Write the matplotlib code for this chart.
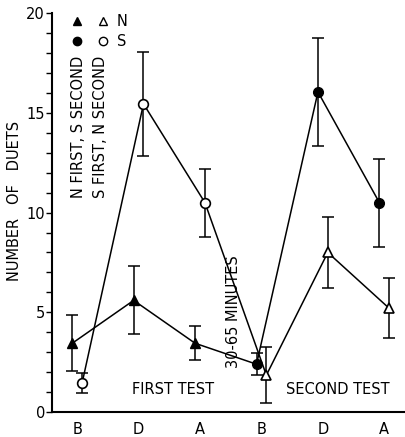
import matplotlib.pyplot as plt
import numpy as np

# x categories: first test (B, D, A) then second test (B, D, A)
categories = ['B', 'D', 'A', 'B', 'D', 'A']

# group tested N first, S second (filled symbols)
ns_values = [3.45, 5.6, 3.45, 2.4, 16.05, 10.5]
ns_err = [1.4, 1.7, 0.85, 0.55, 2.7, 2.2]

# group tested S first, N second (open symbols)
sn_values = [1.45, 15.45, 10.5, 1.85, 8.0, 5.2]
sn_err = [0.5, 2.6, 1.7, 1.4, 1.8, 1.5]

fs = 10.5

fig = plt.figure(figsize=(4.06, 4.37), dpi=100)
ax = fig.add_axes([0.128, 0.057, 0.87, 0.913])

x = np.arange(len(categories))
off = 0.08
x1 = x - off
x2 = x + off

lw = 1.1
ax.plot(x1, ns_values, color='black', lw=lw, zorder=2)
ax.plot(x2, sn_values, color='black', lw=lw, zorder=2)
ax.errorbar(x1, ns_values, yerr=ns_err, fmt='none', ecolor='black',
            elinewidth=lw, capsize=4, capthick=lw, zorder=1)
ax.errorbar(x2, sn_values, yerr=sn_err, fmt='none', ecolor='black',
            elinewidth=lw, capsize=4, capthick=lw, zorder=1)

# first test markers
ax.plot(x1[:3], ns_values[:3], ls='none', marker='^', ms=7, mfc='black', mec='black', zorder=3)
ax.plot(x2[:3], sn_values[:3], ls='none', marker='o', ms=7, mfc='white', mec='black', mew=1.2, zorder=3)
# second test markers
ax.plot(x1[3:], ns_values[3:], ls='none', marker='o', ms=7, mfc='black', mec='black', zorder=3)
ax.plot(x2[3:], sn_values[3:], ls='none', marker='^', ms=7, mfc='white', mec='black', mew=1.2, zorder=3)

ax.set_xlim(-0.41, 5.34)
ax.set_ylim(0, 20)
ax.set_xticks(x)
ax.set_xticklabels(categories, fontsize=fs)
ax.set_yticks([0, 5, 10, 15, 20])
ax.set_yticks(np.arange(0, 21, 1), minor=True)
ax.tick_params(axis='y', labelsize=fs, direction='out', length=4, width=1, pad=1)
ax.tick_params(axis='y', which='minor', length=4, width=1)
ax.tick_params(axis='x', length=0, pad=7)
for s in ['top', 'right']:
    ax.spines[s].set_visible(False)
for s in ['left', 'bottom']:
    ax.spines[s].set_linewidth(1.5)

ax.set_ylabel('NUMBER   OF   DUETS', fontsize=fs)
ax.yaxis.set_label_coords(-0.085, 0.53)

# legend drawn as text and symbols
ax.plot([0.0], [19.6], marker='^', ms=6, color='black', ls='none', clip_on=False)
ax.plot([0.42], [19.6], marker='^', ms=6, mfc='white', mec='black', ls='none', clip_on=False)
ax.text(0.65, 19.6, 'N', fontsize=fs, va='center')
ax.plot([0.0], [18.6], marker='o', ms=6, color='black', ls='none', clip_on=False)
ax.plot([0.42], [18.6], marker='o', ms=6, mfc='white', mec='black', ls='none', clip_on=False)
ax.text(0.65, 18.6, 'S', fontsize=fs, va='center')
ax.text(0.02, 17.85, 'N FIRST, S SECOND', rotation=90, fontsize=fs, ha='center', va='top')
ax.text(0.38, 17.85, 'S FIRST, N SECOND', rotation=90, fontsize=fs, ha='center', va='top')

ax.text(2.54, 5.05, '30-65 MINUTES', rotation=90, fontsize=fs, ha='center', va='center')
ax.text(1.56, 1.15, 'FIRST TEST', fontsize=fs, ha='center', va='center')
ax.text(4.24, 1.15, 'SECOND TEST', fontsize=fs, ha='center', va='center')

fig.savefig('out.png', dpi=100)
